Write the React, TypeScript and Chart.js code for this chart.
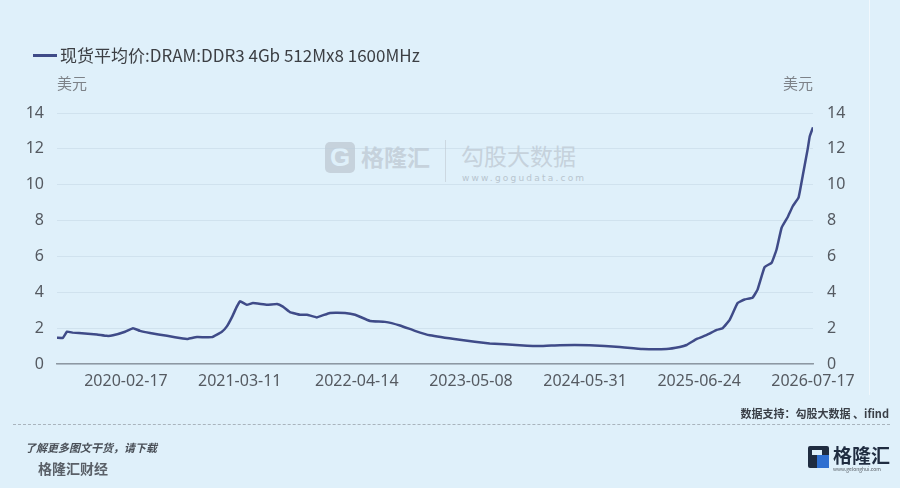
import React, { useEffect, useRef } from 'react';
import { Chart, registerables } from 'chart.js';

Chart.register(...registerables);

// ---- data ----
const seriesName = '现货平均价:DRAM:DDR3 4Gb 512Mx8 1600MHz';
const unitLabel = '美元';
const axisStart = '2019-06-27';
const axisEnd = '2026-07-17';
const tickDates = ['2020-02-17', '2021-03-11', '2022-04-14', '2023-05-08', '2024-05-31', '2025-06-24', '2026-07-17'];
const yTicks = [0, 2, 4, 6, 8, 10, 12, 14];

const dates = [
  '2019-06-27', '2019-07-17', '2019-07-31', '2019-08-20', '2019-09-30', '2019-11-10', '2019-12-14',
  '2020-01-04', '2020-02-14', '2020-03-12', '2020-04-05', '2020-05-09', '2020-07-06', '2020-08-29',
  '2020-09-15', '2020-10-16', '2020-12-06', '2021-01-09', '2021-01-26', '2021-02-12', '2021-03-01',
  '2021-03-12', '2021-04-04', '2021-04-25', '2021-06-12', '2021-07-16', '2021-08-05', '2021-08-29',
  '2021-10-02', '2021-10-26', '2021-11-29', '2022-01-12', '2022-03-05', '2022-04-08', '2022-05-29',
  '2022-07-19', '2022-09-08', '2022-10-29', '2022-12-19', '2023-03-31', '2023-07-11', '2023-10-21',
  '2023-12-28', '2024-03-06', '2024-06-16', '2024-09-26', '2024-12-13', '2025-03-05', '2025-04-19',
  '2025-05-12', '2025-06-16', '2025-07-20', '2025-08-23', '2025-09-12', '2025-10-06', '2025-11-02',
  '2025-11-26', '2025-12-23', '2026-01-09', '2026-02-02', '2026-02-26', '2026-03-15', '2026-04-01',
  '2026-04-22', '2026-05-09', '2026-05-29', '2026-06-12', '2026-06-29', '2026-07-06', '2026-07-17',
];
const values = [
  1.46, 1.46, 1.8, 1.75, 1.7, 1.65, 1.57,
  1.6, 1.8, 2.0, 1.85, 1.73, 1.57, 1.42,
  1.4, 1.5, 1.5, 1.8, 2.1, 2.6, 3.2,
  3.5, 3.3, 3.4, 3.3, 3.35, 3.2, 2.9,
  2.75, 2.75, 2.6, 2.85, 2.85, 2.75, 2.4,
  2.35, 2.15, 1.85, 1.6, 1.35, 1.15, 1.05,
  1.0, 1.05, 1.05, 0.95, 0.84, 0.84, 0.95,
  1.06, 1.4, 1.62, 1.9, 2.0, 2.46, 3.4,
  3.6, 3.7, 4.15, 5.4, 5.65, 6.4, 7.6,
  8.2, 8.8, 9.3, 10.5, 12.0, 12.7, 13.2,
];

const DAY = 86400000;
const toDay = (s: string) => Date.parse(s + 'T00:00:00Z') / DAY;

const BG = '#dff0fa';
const LINE = '#3f4b88';
const TICK = '#555a61';
const tickFont = { family: '"Noto Sans", "Liberation Sans", sans-serif', size: 16 };

export default function App() {
  const ref = useRef<HTMLCanvasElement | null>(null);

  useEffect(() => {
    if (!ref.current) return;
    const points = dates.map((d, i) => ({ x: toDay(d), y: values[i] }));
    const chart = new Chart(ref.current, {
      type: 'line',
      data: {
        datasets: [
          {
            label: seriesName,
            data: points,
            borderColor: LINE,
            borderWidth: 2.5,
            pointRadius: 0,
            tension: 0.1,
            fill: false,
            yAxisID: 'y',
          },
        ],
      },
      options: {
        responsive: false,
        animation: false,
        layout: { padding: { top: 113, bottom: 94, left: 0, right: 0 } },
        plugins: { legend: { display: false }, tooltip: { enabled: false } },
        scales: {
          x: {
            type: 'linear',
            min: toDay(axisStart),
            max: toDay(axisEnd),
            afterBuildTicks: (s: any) => {
              s.ticks = tickDates.map((d) => ({ value: toDay(d) }));
            },
            afterFit: (s: any) => {
              s.height = 30;
            },
            ticks: {
              autoSkip: false,
              maxRotation: 0,
              padding: 8,
              color: TICK,
              font: tickFont,
              callback: (_v: any, i: number) => tickDates[i],
            },
            grid: { display: false, drawTicks: false },
            border: { display: true, color: '#8d98a2', width: 1.5 },
          },
          y: {
            position: 'left',
            min: 0,
            max: 14,
            afterBuildTicks: (s: any) => {
              s.ticks = yTicks.map((v) => ({ value: v }));
            },
            afterFit: (s: any) => {
              s.width = 57;
            },
            ticks: { padding: 13, color: TICK, font: tickFont },
            grid: { color: 'rgba(185,205,220,0.4)', drawTicks: false, lineWidth: 1 },
            border: { display: false },
          },
          y2: {
            position: 'right',
            min: 0,
            max: 14,
            afterBuildTicks: (s: any) => {
              s.ticks = yTicks.map((v) => ({ value: v }));
            },
            afterFit: (s: any) => {
              s.width = 87;
            },
            ticks: { padding: 14, color: TICK, font: tickFont },
            grid: { display: false, drawTicks: false },
            border: { display: false },
          },
        },
      },
    });
    return () => chart.destroy();
  }, []);

  const cjk = '"Noto Sans CJK SC", "Noto Sans", sans-serif';
  const wm = '#c6d2dc';

  return (
    <div style={{ position: 'absolute', left: 0, top: 0, width: 900, height: 488, background: BG, overflow: 'hidden', fontFamily: cjk }}>
      {/* watermark */}
      <div style={{ position: 'absolute', left: 325, top: 142, width: 30, height: 31, background: wm, borderRadius: 5 }}>
        <div style={{ position: 'absolute', left: 0, top: 0, width: 30, height: 31, lineHeight: '31px', textAlign: 'center', color: BG, fontWeight: 900, fontSize: 26, fontFamily: '"Liberation Sans", sans-serif' }}>G</div>
      </div>
      <div style={{ position: 'absolute', left: 361, top: 142, fontSize: 23, lineHeight: '28px', color: wm, fontWeight: 700 }}>格隆汇</div>
      <div style={{ position: 'absolute', left: 445, top: 140, width: 1, height: 42, background: '#ccd8e1' }} />
      <div style={{ position: 'absolute', left: 461, top: 141, fontSize: 23, lineHeight: '28px', color: wm }}>勾股大数据</div>
      <div style={{ position: 'absolute', left: 462, top: 172, fontSize: 9, lineHeight: '12px', color: '#b8c5cf', letterSpacing: 2.2, fontFamily: '"DejaVu Sans", sans-serif' }}>www.gogudata.com</div>

      <canvas ref={ref} width={900} height={488} style={{ position: 'absolute', left: 0, top: 0, width: 900, height: 488 }} />

      {/* legend */}
      <div style={{ position: 'absolute', left: 33, top: 54, width: 24, height: 3, background: LINE }} />
      <div style={{ position: 'absolute', left: 60, top: 44, fontSize: 17, lineHeight: '22px', color: '#3c3f44', whiteSpace: 'nowrap' }}>{seriesName}</div>
      {/* units */}
      <div style={{ position: 'absolute', left: 57, top: 74, fontSize: 15, lineHeight: '17px', color: '#7d8288' }}>{unitLabel}</div>
      <div style={{ position: 'absolute', right: 87, top: 74, fontSize: 15, lineHeight: '17px', color: '#7d8288' }}>{unitLabel}</div>

      {/* right separator */}
      <div style={{ position: 'absolute', left: 869, top: 0, width: 1, height: 395, background: 'rgba(255,255,255,0.55)' }} />

      {/* footer */}
      <div style={{ position: 'absolute', right: 11, top: 406, fontSize: 11, lineHeight: '14px', color: '#3a3f47', fontWeight: 700, whiteSpace: 'nowrap' }}>数据支持：勾股大数据 、ifind</div>
      <div style={{ position: 'absolute', left: 13, top: 424, width: 877, height: 0, borderTop: '1px dashed #a9b4bd' }} />
      <div style={{ position: 'absolute', left: 25, top: 440, fontSize: 11, lineHeight: '14px', color: '#4a5058', fontWeight: 700, fontStyle: 'italic', whiteSpace: 'nowrap' }}>了解更多图文干货，请下载</div>
      <div style={{ position: 'absolute', left: 38, top: 459, fontSize: 14, lineHeight: '18px', color: '#5a6068', fontWeight: 700, whiteSpace: 'nowrap' }}>格隆汇财经</div>

      {/* logo */}
      <div style={{ position: 'absolute', left: 808, top: 446, width: 21, height: 22, background: '#1f2c40', borderRadius: 2 }}>
        <div style={{ position: 'absolute', left: 9, top: 9, width: 12, height: 13, background: '#2f6fd0' }} />
        <div style={{ position: 'absolute', left: 4, top: 4, width: 10, height: 5, background: BG }} />
      </div>
      <div style={{ position: 'absolute', left: 833, top: 444, fontSize: 19, lineHeight: '22px', color: '#1f2c40', fontWeight: 700, whiteSpace: 'nowrap' }}>格隆汇</div>
      <div style={{ position: 'absolute', left: 833, top: 466, fontSize: 5, lineHeight: '6px', color: '#5a6068', whiteSpace: 'nowrap' }}>www.gelonghui.com</div>
    </div>
  );
}
